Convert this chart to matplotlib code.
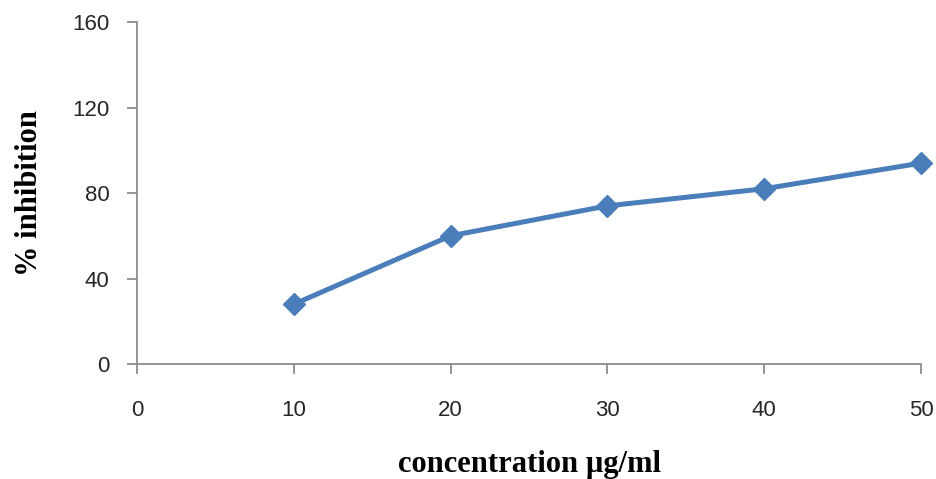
import matplotlib
matplotlib.use("Agg")
import matplotlib.pyplot as plt

# data
concentration = [10, 20, 30, 40, 50]
inhibition = [28, 60, 74, 82, 94]
x_ticks = [0, 10, 20, 30, 40, 50]
y_ticks = [0, 40, 80, 120, 160]

fig = plt.figure(figsize=(9.36, 4.79), dpi=100)
ax = fig.add_axes([0.1464, 0.240, 0.8376, 0.714])

ax.plot(concentration, inhibition, color="#4a7ebb", linewidth=3.6,
        marker="D", markersize=11, markerfacecolor="#4a7ebb",
        markeredgecolor="#4a7ebb", clip_on=False)

ax.set_xlim(0, 50)
ax.set_ylim(0, 160)
ax.set_xticks(x_ticks)
ax.set_yticks(y_ticks)

for side in ["top", "right"]:
    ax.spines[side].set_visible(False)
for side in ["left", "bottom"]:
    ax.spines[side].set_color("#8c8c8c")
    ax.spines[side].set_linewidth(1.3)

ax.tick_params(axis="both", colors="#8c8c8c", length=7, width=1.3,
               direction="out", labelsize=16, labelcolor="#262626")
ax.tick_params(axis="x", pad=19)
ax.tick_params(axis="y", pad=13)
for lbl in ax.get_xticklabels() + ax.get_yticklabels():
    lbl.set_family("Liberation Sans")

# the reference crops the bottom of this label; keep it just inside here
ax.set_xlabel("concentration µg/ml", family="Liberation Serif",
              fontweight="bold", fontsize=22, labelpad=21)
ax.set_ylabel("% inhibition", family="Liberation Serif",
              fontweight="bold", fontsize=22, labelpad=20)

plt.savefig("out.png", dpi=100)
